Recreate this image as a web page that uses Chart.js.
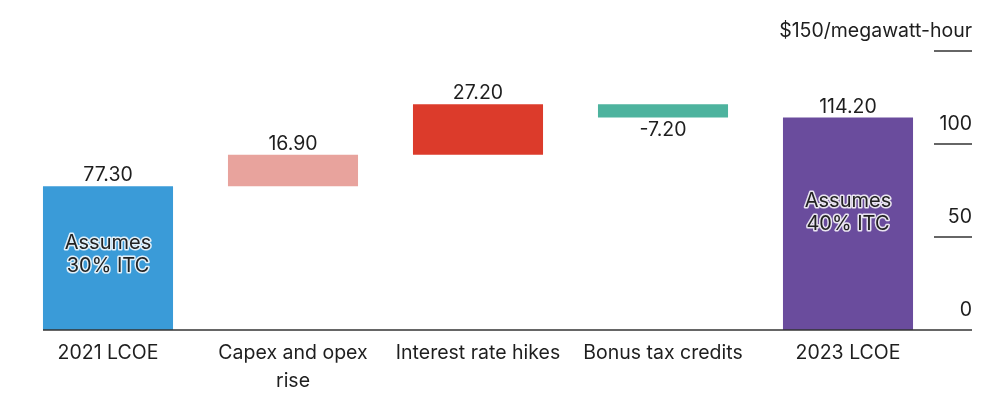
<!DOCTYPE html>
<html>
<head>
<meta charset="utf-8">
<script src="https://cdn.jsdelivr.net/npm/chart.js@4/dist/chart.umd.min.js"></script>
<style>
  html, body { margin: 0; padding: 0; background: #fff; }
  #wrap { width: 1000px; height: 411px; }
</style>
</head>
<body>
<div id="wrap"><canvas id="lcoe"></canvas></div>
<script>
// categories and step values (waterfall)
const categories = [['2021 LCOE'], ['Capex and opex', 'rise'], ['Interest rate hikes'], ['Bonus tax credits'], ['2023 LCOE']];
const steps = [77.3, 16.9, 27.2, -7.2, 114.2];
const isTotal = [true, false, false, false, true];
const valueLabels = ['77.30', '16.90', '27.20', '-7.20', '114.20'];
const barColors = ['#3a9bd8', '#e8a39d', '#dc3b2b', '#4db39e', '#6a4c9d'];
const insideNotes = [['Assumes', '30% ITC'], null, null, null, ['Assumes', '40% ITC']];
const yTicks = [0, 50, 100, 150];
const yTickLabels = ['0', '50', '100', '$150/megawatt-hour'];

// build floating ranges
let running = 0;
const ranges = steps.map((v, i) => {
    if (isTotal[i]) { running = v; return [0, v]; }
    const r = [running, running + v];
    running += v;
    return r;
});

const FONT = '"Inter", "Liberation Sans", sans-serif';
const INK = '#1e1e1e';
const noteOffset = [57, 0, 0, 0, 83]; // px below bar top for first note line

const overlay = {
    id: 'overlay',
    afterDatasetsDraw(chart) {
        const { ctx, scales: { x, y } } = chart;
        const meta = chart.getDatasetMeta(0);
        ctx.save();

        // baseline
        const y0 = y.getPixelForValue(0);
        ctx.strokeStyle = '#333';
        ctx.lineWidth = 1.5;
        ctx.beginPath();
        ctx.moveTo(meta.data[0].x - meta.data[0].width / 2, y0);
        ctx.lineTo(972, y0);
        ctx.stroke();

        // right axis ticks
        ctx.font = '19.5px ' + FONT;
        ctx.fillStyle = INK;
        ctx.textAlign = 'right';
        ctx.textBaseline = 'middle';
        yTicks.forEach((t, i) => {
            const py = y.getPixelForValue(t);
            if (t > 0) {
                ctx.beginPath();
                ctx.moveTo(934, py);
                ctx.lineTo(972, py);
                ctx.stroke();
            }
            ctx.fillText(yTickLabels[i], 972, py - 20);
        });

        // value labels
        ctx.textAlign = 'center';
        meta.data.forEach((bar, i) => {
            const top = Math.min(bar.y, bar.base);
            const bottom = Math.max(bar.y, bar.base);
            if (steps[i] < 0) {
                ctx.textBaseline = 'top';
                ctx.fillText(valueLabels[i], bar.x, bottom + 3);
            } else {
                ctx.textBaseline = 'bottom';
                ctx.fillText(valueLabels[i], bar.x, top - 1);
            }
        });

        // category labels
        ctx.textBaseline = 'middle';
        categories.forEach((lines, i) => {
            const px = x.getPixelForValue(i);
            lines.forEach((ln, k) => ctx.fillText(ln, px, y0 + 23 + k * 28));
        });

        // inside notes with halo
        ctx.font = '20px ' + FONT;
        ctx.lineJoin = 'round';
        meta.data.forEach((bar, i) => {
            const note = insideNotes[i];
            if (!note) return;
            const cy = y.getPixelForValue(ranges[i][1]) + noteOffset[i];
            note.forEach((ln, k) => {
                const py = cy + k * 23;
                ctx.strokeStyle = 'rgba(255,255,255,0.85)';
                ctx.lineWidth = 3;
                ctx.strokeText(ln, bar.x, py);
                ctx.fillStyle = '#222';
                ctx.fillText(ln, bar.x, py);
            });
        });
        ctx.restore();
    }
};

new Chart(document.getElementById('lcoe'), {
    type: 'bar',
    data: {
        labels: categories.map(c => c.join(' ')),
        datasets: [{
            data: ranges,
            backgroundColor: barColors,
            borderWidth: 0,
            barPercentage: 0.703,
            categoryPercentage: 1
        }]
    },
    options: {
        responsive: true,
        maintainAspectRatio: false,
        animation: false,
        layout: { padding: { left: 15.5, right: 59.5, top: 51, bottom: 81 } },
        plugins: { legend: { display: false }, tooltip: { enabled: false } },
        scales: {
            x: { display: false },
            y: { display: false, min: 0, max: 150 }
        }
    },
    plugins: [overlay]
});
</script>
</body>
</html>
